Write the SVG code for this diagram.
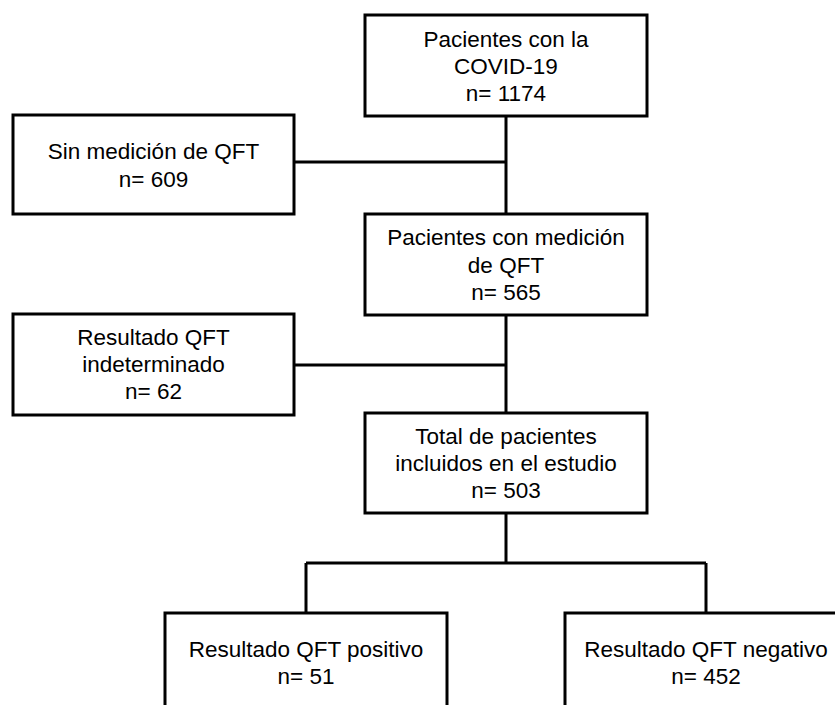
<svg xmlns="http://www.w3.org/2000/svg" width="835" height="705" viewBox="0 0 835 705">
<style>
.box{fill:#fff;stroke:#000;stroke-width:3}
.ln{fill:none;stroke:#000;stroke-width:3}
text{font-family:"Liberation Sans",Arial,Helvetica,sans-serif;font-size:22.5px;fill:#000;text-anchor:middle}
</style>
<rect width="835" height="705" fill="#fff"/>
<g id="connectors">
<path class="ln" d="M506,116V214M294,162H506M506,315V413M294,365H506M506,513V563M306,563H706M306,563V613M706,563V613"/>
</g>
<g id="n1"><rect class="box" x="365" y="15" width="282" height="101"/>
<text x="506" y="47">Pacientes con la</text><text x="506" y="74">COVID-19</text><text x="506" y="101">n= 1174</text></g>
<g id="n2"><rect class="box" x="13" y="115" width="281" height="99"/>
<text x="153.5" y="159">Sin medición de QFT</text><text x="153.5" y="187">n= 609</text></g>
<g id="n3"><rect class="box" x="365" y="214" width="282" height="101"/>
<text x="506" y="245">Pacientes con medición</text><text x="506" y="273">de QFT</text><text x="506" y="300">n= 565</text></g>
<g id="n4"><rect class="box" x="13" y="314" width="281" height="101"/>
<text x="153.5" y="345">Resultado QFT</text><text x="153.5" y="372">indeterminado</text><text x="153.5" y="399">n= 62</text></g>
<g id="n5"><rect class="box" x="365" y="413" width="282" height="100"/>
<text x="506" y="444">Total de pacientes</text><text x="506" y="471">incluidos en el estudio</text><text x="506" y="498">n= 503</text></g>
<g id="n6"><rect class="box" x="165" y="613" width="282" height="101"/>
<text x="306" y="657">Resultado QFT positivo</text><text x="306" y="684">n= 51</text></g>
<g id="n7"><rect class="box" x="565" y="613" width="282" height="101"/>
<text x="706" y="657">Resultado QFT negativo</text><text x="706" y="684">n= 452</text></g>
</svg>
